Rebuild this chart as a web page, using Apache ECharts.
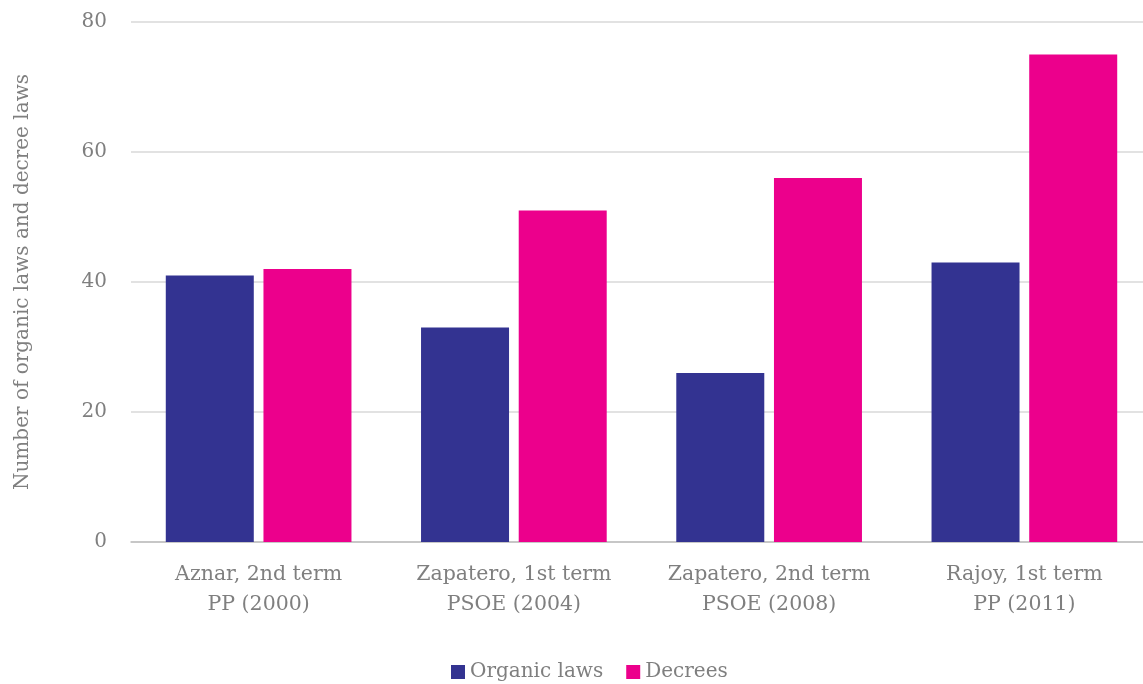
<!DOCTYPE html>
<html>
<head>
<meta charset="utf-8">
<script src="https://cdn.jsdelivr.net/npm/echarts@6/dist/echarts.min.js"></script>
<style>
  html, body { margin: 0; padding: 0; background: #fff; }
  #main { width: 1143px; height: 684px; }
</style>
</head>
<body>
<div id="main"></div>
<script>
var categories = ['Aznar, 2nd term\nPP (2000)', 'Zapatero, 1st term\nPSOE (2004)', 'Zapatero, 2nd term\nPSOE (2008)', 'Rajoy, 1st term\nPP (2011)'];
var organicLaws = [41, 33, 26, 43];
var decrees = [42, 51, 56, 75];
var seriesNames = ['Organic laws', 'Decrees'];

var font = '"DejaVu Serif", "Liberation Serif", serif';
var textColor = '#7f7f7f';

var myChart = echarts.init(document.getElementById('main'));
var option = {
  animation: false,
  textStyle: { fontFamily: font },
  grid: { left: 131, right: -9, top: 22, bottom: 142, containLabel: false, outerBoundsMode: 'none' },
  legend: {
    top: 657,
    left: 446,
    itemWidth: 14,
    itemHeight: 14,
    itemGap: 23,
    icon: 'rect',
    textStyle: { fontFamily: font, fontSize: 20, color: textColor },
    data: seriesNames
  },
  xAxis: {
    type: 'category',
    data: categories,
    axisTick: { show: false },
    axisLine: { lineStyle: { color: '#bfbfbf', width: 1.5 } },
    axisLabel: { interval: 0, fontFamily: font, fontSize: 20.5, color: textColor, lineHeight: 30, margin: 18 }
  },
  yAxis: {
    type: 'value',
    min: 0,
    max: 80,
    interval: 20,
    name: 'Number of organic laws and decree laws',
    nameLocation: 'middle',
    nameGap: 98,
    nameTextStyle: { fontFamily: font, fontSize: 20, color: textColor },
    axisLine: { show: false },
    axisTick: { show: false },
    axisLabel: { fontFamily: font, fontSize: 20, color: textColor, margin: 24 },
    splitLine: { lineStyle: { color: '#d9d9d9', width: 1.5 } }
  },
  series: [
    {
      name: seriesNames[0],
      type: 'bar',
      data: organicLaws,
      barWidth: 88,
      barGap: '11%',
      itemStyle: { color: '#333391' }
    },
    {
      name: seriesNames[1],
      type: 'bar',
      data: decrees,
      barWidth: 88,
      barGap: '11%',
      itemStyle: { color: '#ec008c' }
    }
  ]
};
myChart.setOption(option);
</script>
</body>
</html>
